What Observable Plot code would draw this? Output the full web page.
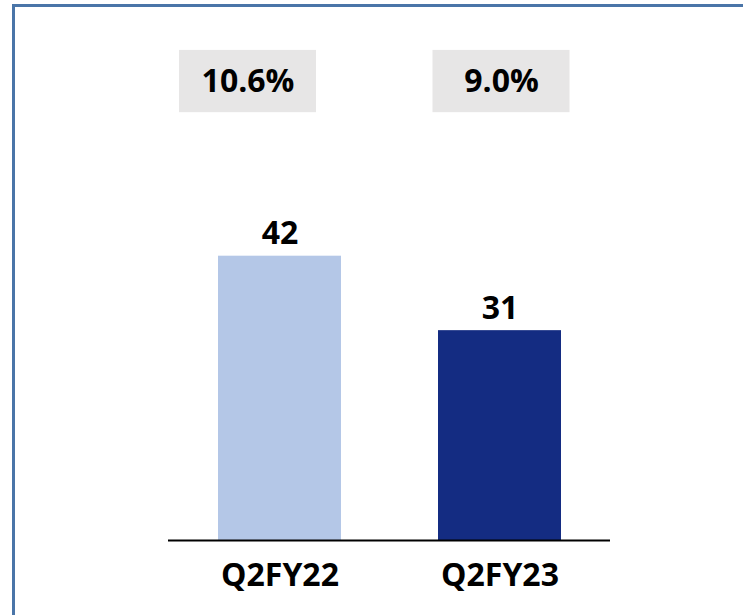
<!DOCTYPE html>
<html>
<head>
<meta charset="utf-8">
<script src="https://cdn.jsdelivr.net/npm/d3@7"></script>
<script src="https://cdn.jsdelivr.net/npm/@observablehq/plot@0.6"></script>
<style>
  html, body { margin: 0; padding: 0; background: #fff; overflow: hidden; }
  #wrap { position: relative; width: 743px; height: 615px; overflow: hidden; }
  #frame { position: absolute; left: 12px; top: 4px; width: 800px; height: 700px;
           border: 3px solid #4a75a8; pointer-events: none; box-sizing: border-box; }
  svg { font-family: "Open Sans", Calibri, sans-serif; }
</style>
</head>
<body>
<div id="wrap"><div id="frame"></div></div>
<script>
const categories = ["Q2FY22", "Q2FY23"];
const values = [42, 31];
const margins = ["10.6%", "9.0%"];
const colors = ["#b4c7e7", "#142c82"];

const data = categories.map((c, i) => ({cat: c, value: values[i], margin: margins[i], color: colors[i]}));

// decoration placement (style only)
const BOX_TOP = 72.4, BOX_BOTTOM = 63.2;
const boxDx = [-32, 1.5];

const boxMarks = data.flatMap((d, i) => [
  Plot.barY([d], {x: "cat", y1: BOX_BOTTOM, y2: BOX_TOP, fill: "#e7e6e6",
                  insetLeft: -7, insetRight: -7, dx: boxDx[i]}),
  Plot.text([d], {x: "cat", y: (BOX_TOP + BOX_BOTTOM) / 2, text: "margin", dx: boxDx[i],
                  fontSize: 32, fontWeight: 700, fill: "#000", lineAnchor: "middle"})
]);

const chart = Plot.plot({
  width: 743,
  height: 615,
  marginLeft: 168,
  marginRight: 133,
  marginTop: 12,
  marginBottom: 75,
  style: {fontFamily: "'Open Sans', Calibri, sans-serif", background: "transparent"},
  x: {domain: categories, paddingInner: 0.443, paddingOuter: 0.222, label: null,
      tickSize: 0, tickPadding: 23},
  y: {domain: [0, 78], axis: null},
  marks: [
    Plot.barY(data, {x: "cat", y: "value", fill: "color"}),
    Plot.text(data, {x: "cat", y: "value", text: d => String(d.value), dy: -12,
                     lineAnchor: "bottom", fontSize: 32, fontWeight: 700, fill: "#000"}),
    ...boxMarks,
    Plot.ruleY([0], {stroke: "#000", strokeWidth: 2}),
    Plot.axisX({tickSize: 0, tickPadding: 23, fontSize: 32, fontWeight: 700, label: null,
                color: "#000"})
  ]
});
chart.querySelectorAll("[aria-label='x-axis tick label'] text, g[aria-label='x-axis tick label']").forEach(n => {
  n.setAttribute("font-size", 32); n.setAttribute("font-weight", 700); n.setAttribute("fill", "#000");
});
document.getElementById("wrap").insertBefore(chart, document.getElementById("frame"));
</script>
</body>
</html>
